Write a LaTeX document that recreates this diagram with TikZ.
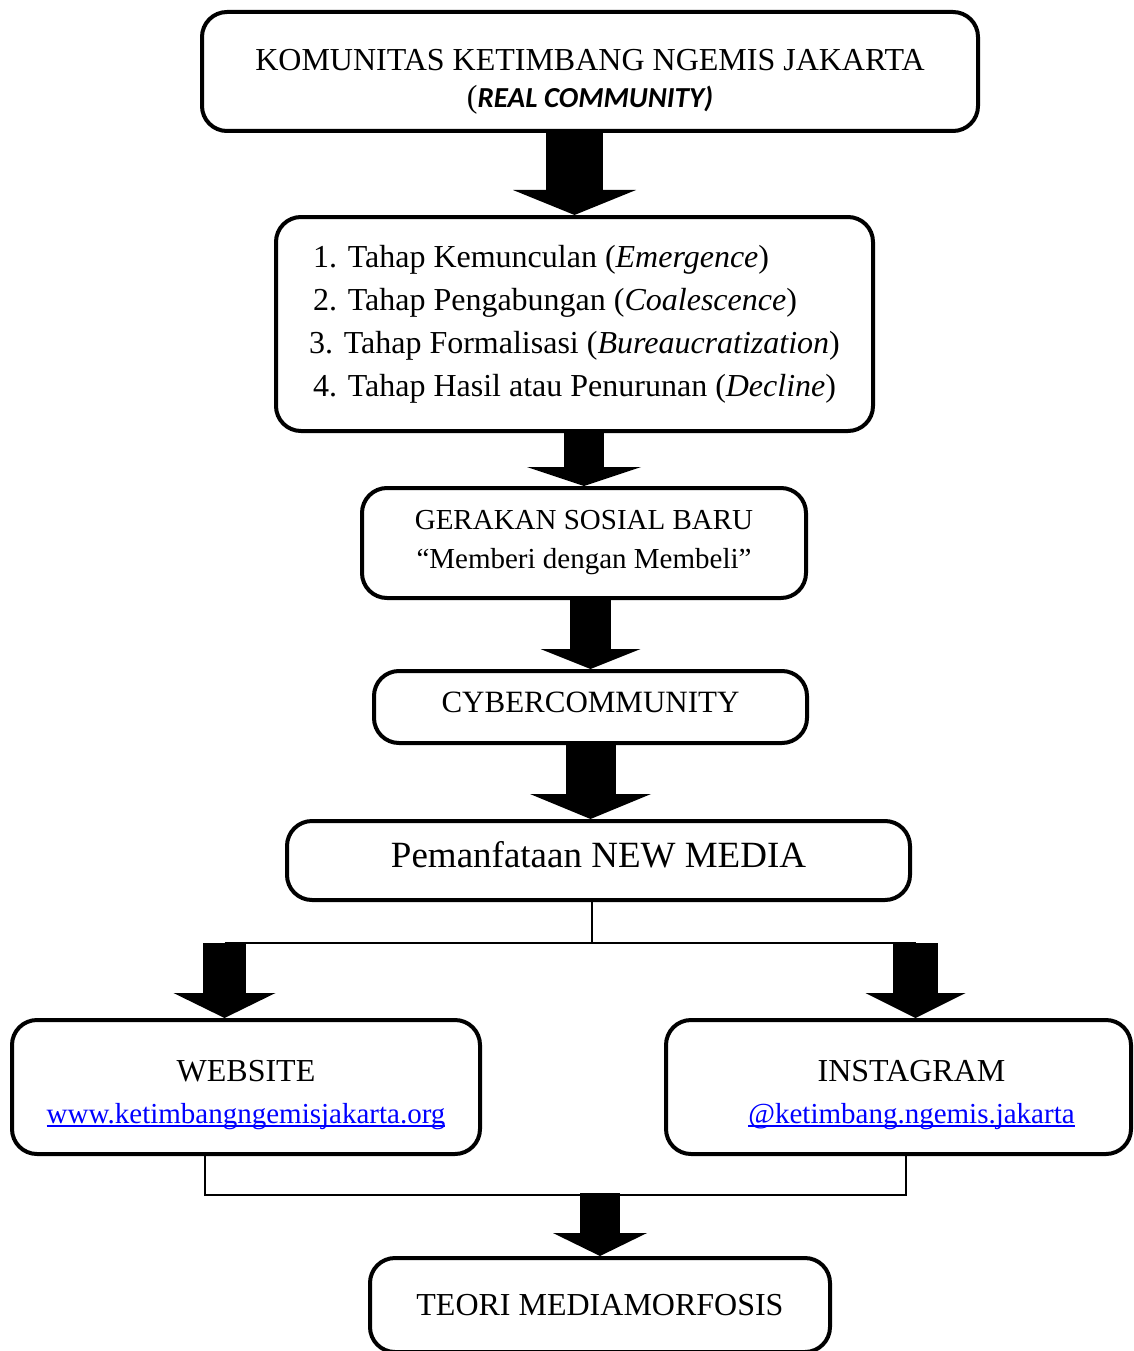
\documentclass[tikz,border=0pt]{standalone}
\usepackage{fontspec}
\setmainfont{Liberation Serif}
\newfontfamily\calibrifont{Carlito}
\usetikzlibrary{arrows.meta}

\definecolor{linkblue}{RGB}{0,0,255}
\newcommand{\weblink}[1]{\textcolor{linkblue}{\setbox0\hbox{#1}\rlap{\rule[-0.11em]{\wd0}{0.07em}}\box0}}
\newcommand{\padtop}[1]{\rule{0pt}{#1}}
\newcommand{\padbottom}[1]{\rule[-#1]{0pt}{#1}}

\tikzset{
  stagebox/.style={draw, line width=4pt, rounded corners=25pt, inner sep=0pt, align=center},
  blockarrow/.style n args={3}{line width=#1, -{Triangle[line width=0pt, width=#2, length=#3]}},
  joinline/.style={line width=2pt}
}

\begin{document}
\begin{tikzpicture}[x=1pt,y=-1pt]
\useasboundingbox (0,0) rectangle (1134,1351);

% boxes
\node[stagebox, minimum width=776pt, minimum height=119pt, font=\fontsize{32}{37}\selectfont] (komunitas) at (590,71.5)
  {\padtop{41pt}KOMUNITAS KETIMBANG NGEMIS JAKARTA\\
   ({\calibrifont\fontsize{29}{37}\selectfont\bfseries\itshape REAL COMMUNITY)}};
\node[stagebox, align=left, minimum width=597pt, minimum height=214pt, font=\fontsize{32}{43}\selectfont] (tahap) at (574.5,324)
  {\hspace*{4pt}1. Tahap Kemunculan (\textit{Emergence})\\
   \hspace*{4pt}2. Tahap Pengabungan (\textit{Coalescence})\\
   3. Tahap Formalisasi (\textit{Bureaucratization})\\
   \hspace*{4pt}4. Tahap Hasil atau Penurunan (\textit{Decline})};
\node[stagebox, minimum width=444pt, minimum height=110pt, font=\fontsize{29}{39}\selectfont] (gerakan) at (584,543)
  {GERAKAN SOSIAL BARU\\``Memberi dengan Membeli''};
\node[stagebox, minimum width=433pt, minimum height=72pt, font=\fontsize{31}{37}\selectfont] (cyber) at (590.5,707)
  {CYBERCOMMUNITY\padbottom{10pt}};
\node[stagebox, minimum width=623pt, minimum height=79pt, font=\fontsize{37}{44}\selectfont] (newmedia) at (598.5,860.5)
  {Pemanfataan NEW MEDIA\padbottom{12pt}};
\node[stagebox, minimum width=468pt, minimum height=134pt, font=\fontsize{32}{42}\selectfont] (website) at (246,1087)
  {\padtop{37pt}WEBSITE\\
   {\fontsize{29}{42}\selectfont\weblink{www.ketimbangngemisjakarta.org}}};
\node[stagebox, minimum width=465pt, minimum height=134pt, font=\fontsize{32}{42}\selectfont] (instagram) at (898.5,1087)
  {\hspace*{26pt}\padtop{37pt}INSTAGRAM\\
   \hspace*{26pt}{\fontsize{29}{42}\selectfont\weblink{@ketimbang.ngemis.jakarta}}};
\node[stagebox, minimum width=460pt, minimum height=94pt, font=\fontsize{32}{37}\selectfont] (teori) at (600,1305)
  {TEORI MEDIAMORFOSIS};

% block arrows down the chain
\draw[blockarrow={57pt}{123pt}{25pt}] (komunitas.south -| tahap.north) -- (tahap.north);
\draw[blockarrow={40pt}{114pt}{19pt}] (tahap.south -| gerakan.north) -- (gerakan.north);
\draw[blockarrow={41pt}{100pt}{20pt}] (gerakan.south -| cyber.north) -- (cyber.north);
\draw[blockarrow={50pt}{121pt}{25pt}] (cyber.south) -- (cyber.south |- newmedia.north);

% split to the two media
\coordinate (split) at (592,943);
\coordinate (splitleft) at (224.5,943);
\coordinate (splitright) at (915.5,943);
\draw[joinline] (newmedia.south -| split) -- (split);
\draw[joinline] (splitleft) -- (splitright);
\draw[blockarrow={43pt}{102pt}{25pt}] (splitleft) -- (splitleft |- website.north);
\draw[blockarrow={45pt}{100pt}{25pt}] (splitright) -- (splitright |- instagram.north);

% merge into the theory
\coordinate (mergeleft) at (205,1195);
\coordinate (mergeright) at (906,1195);
\coordinate (merge) at (600,1193);
\draw[joinline] (website.south -| mergeleft) -- (mergeleft) -- (mergeright) -- (instagram.south -| mergeright);
\draw[blockarrow={40pt}{94pt}{23pt}] (merge) -- (teori.north);
\end{tikzpicture}
\end{document}
